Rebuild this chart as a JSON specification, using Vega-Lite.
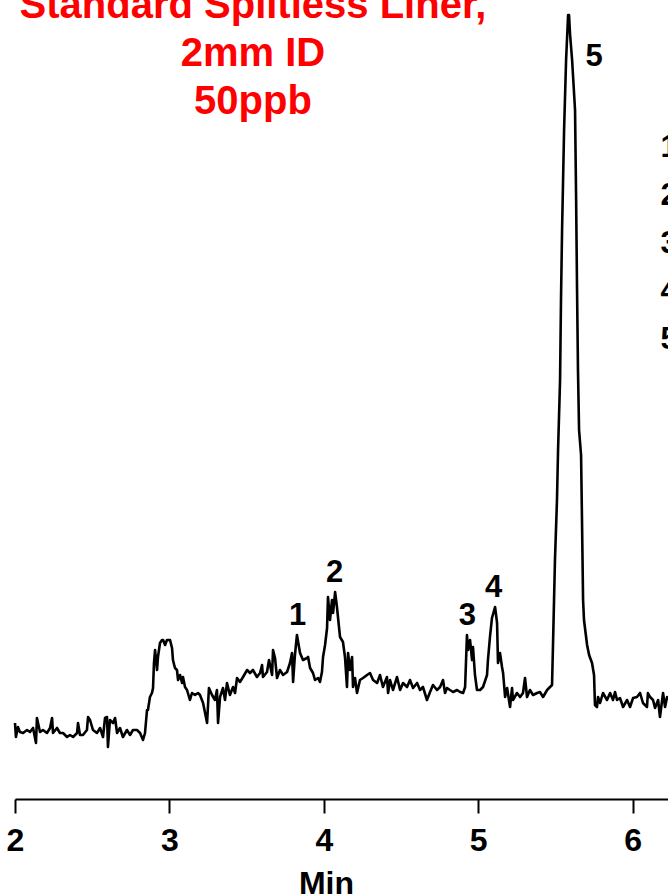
{
  "$schema": "https://vega.github.io/schema/vega-lite/v6.json",
  "width": 653,
  "height": 799,
  "autosize": {"type": "none"},
  "padding": {"left": 15, "top": 0, "right": 0, "bottom": 97},
  "background": "white",
  "config": {"view": {"stroke": null}, "font": "Liberation Sans"},
  "datasets": {
    "trace": [
      {"t": 2.000, "v": 76}, {"t": 2.006, "v": 62}, {"t": 2.019, "v": 72}, {"t": 2.032, "v": 67}, {"t": 2.052, "v": 66},
      {"t": 2.078, "v": 69}, {"t": 2.097, "v": 67}, {"t": 2.117, "v": 71}, {"t": 2.136, "v": 56}, {"t": 2.142, "v": 81},
      {"t": 2.162, "v": 67}, {"t": 2.181, "v": 69}, {"t": 2.207, "v": 66}, {"t": 2.227, "v": 71}, {"t": 2.240, "v": 81},
      {"t": 2.246, "v": 66}, {"t": 2.272, "v": 71}, {"t": 2.291, "v": 66}, {"t": 2.311, "v": 66}, {"t": 2.337, "v": 62},
      {"t": 2.356, "v": 64}, {"t": 2.376, "v": 62}, {"t": 2.402, "v": 66}, {"t": 2.408, "v": 76}, {"t": 2.421, "v": 64},
      {"t": 2.440, "v": 64}, {"t": 2.466, "v": 69}, {"t": 2.473, "v": 82}, {"t": 2.486, "v": 79}, {"t": 2.505, "v": 69},
      {"t": 2.531, "v": 66}, {"t": 2.551, "v": 71}, {"t": 2.570, "v": 62}, {"t": 2.583, "v": 81}, {"t": 2.596, "v": 82},
      {"t": 2.602, "v": 52}, {"t": 2.615, "v": 79}, {"t": 2.635, "v": 76}, {"t": 2.648, "v": 81}, {"t": 2.661, "v": 66},
      {"t": 2.680, "v": 71}, {"t": 2.699, "v": 62}, {"t": 2.725, "v": 69}, {"t": 2.745, "v": 64}, {"t": 2.764, "v": 69},
      {"t": 2.790, "v": 69}, {"t": 2.810, "v": 66}, {"t": 2.829, "v": 59}, {"t": 2.842, "v": 66}, {"t": 2.855, "v": 89},
      {"t": 2.861, "v": 89}, {"t": 2.874, "v": 102}, {"t": 2.887, "v": 106}, {"t": 2.894, "v": 111}, {"t": 2.900, "v": 136},
      {"t": 2.907, "v": 149}, {"t": 2.920, "v": 129}, {"t": 2.926, "v": 142}, {"t": 2.939, "v": 156}, {"t": 2.952, "v": 159},
      {"t": 2.959, "v": 159}, {"t": 2.972, "v": 154}, {"t": 2.984, "v": 159}, {"t": 2.991, "v": 159}, {"t": 3.004, "v": 159},
      {"t": 3.017, "v": 151}, {"t": 3.023, "v": 139}, {"t": 3.036, "v": 131}, {"t": 3.049, "v": 129}, {"t": 3.056, "v": 119},
      {"t": 3.069, "v": 124}, {"t": 3.082, "v": 116}, {"t": 3.088, "v": 122}, {"t": 3.101, "v": 112}, {"t": 3.114, "v": 109},
      {"t": 3.133, "v": 99}, {"t": 3.146, "v": 106}, {"t": 3.166, "v": 104}, {"t": 3.185, "v": 106}, {"t": 3.198, "v": 104},
      {"t": 3.218, "v": 96}, {"t": 3.244, "v": 76}, {"t": 3.256, "v": 111}, {"t": 3.276, "v": 104}, {"t": 3.295, "v": 99},
      {"t": 3.308, "v": 109}, {"t": 3.315, "v": 76}, {"t": 3.328, "v": 102}, {"t": 3.347, "v": 111}, {"t": 3.360, "v": 99},
      {"t": 3.373, "v": 116}, {"t": 3.392, "v": 104}, {"t": 3.412, "v": 112}, {"t": 3.425, "v": 106}, {"t": 3.438, "v": 121},
      {"t": 3.457, "v": 117}, {"t": 3.477, "v": 122}, {"t": 3.503, "v": 129}, {"t": 3.522, "v": 126}, {"t": 3.541, "v": 129},
      {"t": 3.567, "v": 122}, {"t": 3.587, "v": 126}, {"t": 3.600, "v": 134}, {"t": 3.606, "v": 122}, {"t": 3.632, "v": 127},
      {"t": 3.645, "v": 139}, {"t": 3.665, "v": 124}, {"t": 3.671, "v": 149}, {"t": 3.684, "v": 141}, {"t": 3.697, "v": 121},
      {"t": 3.716, "v": 129}, {"t": 3.736, "v": 124}, {"t": 3.762, "v": 127}, {"t": 3.781, "v": 136}, {"t": 3.794, "v": 146},
      {"t": 3.801, "v": 117}, {"t": 3.813, "v": 144}, {"t": 3.826, "v": 164}, {"t": 3.846, "v": 146}, {"t": 3.865, "v": 139},
      {"t": 3.891, "v": 141}, {"t": 3.898, "v": 142}, {"t": 3.911, "v": 131}, {"t": 3.930, "v": 126}, {"t": 3.943, "v": 119},
      {"t": 3.963, "v": 121}, {"t": 3.975, "v": 117}, {"t": 3.988, "v": 127}, {"t": 3.995, "v": 142}, {"t": 4.008, "v": 154},
      {"t": 4.021, "v": 171}, {"t": 4.027, "v": 202}, {"t": 4.040, "v": 179}, {"t": 4.053, "v": 199}, {"t": 4.060, "v": 186},
      {"t": 4.073, "v": 207}, {"t": 4.085, "v": 192}, {"t": 4.105, "v": 162}, {"t": 4.124, "v": 157}, {"t": 4.137, "v": 142},
      {"t": 4.150, "v": 112}, {"t": 4.157, "v": 146}, {"t": 4.170, "v": 129}, {"t": 4.183, "v": 142}, {"t": 4.189, "v": 112},
      {"t": 4.202, "v": 121}, {"t": 4.215, "v": 106}, {"t": 4.234, "v": 119}, {"t": 4.254, "v": 121}, {"t": 4.280, "v": 124},
      {"t": 4.299, "v": 126}, {"t": 4.319, "v": 119}, {"t": 4.345, "v": 116}, {"t": 4.364, "v": 124}, {"t": 4.383, "v": 112},
      {"t": 4.409, "v": 122}, {"t": 4.416, "v": 106}, {"t": 4.429, "v": 119}, {"t": 4.448, "v": 109}, {"t": 4.474, "v": 122},
      {"t": 4.494, "v": 109}, {"t": 4.513, "v": 116}, {"t": 4.539, "v": 112}, {"t": 4.558, "v": 119}, {"t": 4.578, "v": 111},
      {"t": 4.604, "v": 116}, {"t": 4.623, "v": 109}, {"t": 4.642, "v": 112}, {"t": 4.668, "v": 99}, {"t": 4.688, "v": 107},
      {"t": 4.707, "v": 114}, {"t": 4.733, "v": 109}, {"t": 4.753, "v": 112}, {"t": 4.772, "v": 119}, {"t": 4.785, "v": 106},
      {"t": 4.798, "v": 111}, {"t": 4.817, "v": 109}, {"t": 4.837, "v": 107}, {"t": 4.863, "v": 109}, {"t": 4.882, "v": 107},
      {"t": 4.902, "v": 106}, {"t": 4.915, "v": 112}, {"t": 4.927, "v": 164}, {"t": 4.934, "v": 149}, {"t": 4.947, "v": 159},
      {"t": 4.960, "v": 139}, {"t": 4.966, "v": 152}, {"t": 4.979, "v": 124}, {"t": 4.992, "v": 109}, {"t": 5.012, "v": 109},
      {"t": 5.031, "v": 112}, {"t": 5.057, "v": 124}, {"t": 5.063, "v": 139}, {"t": 5.076, "v": 162}, {"t": 5.089, "v": 181},
      {"t": 5.109, "v": 192}, {"t": 5.122, "v": 176}, {"t": 5.128, "v": 136}, {"t": 5.141, "v": 146}, {"t": 5.154, "v": 132},
      {"t": 5.161, "v": 126}, {"t": 5.174, "v": 102}, {"t": 5.187, "v": 111}, {"t": 5.206, "v": 92}, {"t": 5.219, "v": 111},
      {"t": 5.225, "v": 99}, {"t": 5.251, "v": 106}, {"t": 5.271, "v": 102}, {"t": 5.290, "v": 106}, {"t": 5.303, "v": 121},
      {"t": 5.316, "v": 102}, {"t": 5.335, "v": 109}, {"t": 5.355, "v": 104}, {"t": 5.381, "v": 106}, {"t": 5.400, "v": 107},
      {"t": 5.420, "v": 102}, {"t": 5.446, "v": 109}, {"t": 5.465, "v": 112}, {"t": 5.478, "v": 114}, {"t": 5.485, "v": 159},
      {"t": 5.491, "v": 199}, {"t": 5.497, "v": 239}, {"t": 5.510, "v": 299}, {"t": 5.517, "v": 349}, {"t": 5.530, "v": 419},
      {"t": 5.536, "v": 499}, {"t": 5.543, "v": 569}, {"t": 5.556, "v": 669}, {"t": 5.569, "v": 739}, {"t": 5.582, "v": 784},
      {"t": 5.588, "v": 784}, {"t": 5.595, "v": 764}, {"t": 5.608, "v": 739}, {"t": 5.627, "v": 689}, {"t": 5.634, "v": 599},
      {"t": 5.640, "v": 509}, {"t": 5.646, "v": 429}, {"t": 5.653, "v": 369}, {"t": 5.666, "v": 344}, {"t": 5.672, "v": 279},
      {"t": 5.679, "v": 199}, {"t": 5.685, "v": 179}, {"t": 5.705, "v": 154}, {"t": 5.718, "v": 144}, {"t": 5.737, "v": 136},
      {"t": 5.750, "v": 124}, {"t": 5.756, "v": 94}, {"t": 5.769, "v": 92}, {"t": 5.776, "v": 102}, {"t": 5.789, "v": 96},
      {"t": 5.808, "v": 106}, {"t": 5.834, "v": 99}, {"t": 5.854, "v": 106}, {"t": 5.873, "v": 99}, {"t": 5.886, "v": 107},
      {"t": 5.899, "v": 99}, {"t": 5.918, "v": 101}, {"t": 5.938, "v": 92}, {"t": 5.964, "v": 99}, {"t": 5.983, "v": 92},
      {"t": 6.003, "v": 101}, {"t": 6.028, "v": 102}, {"t": 6.048, "v": 106}, {"t": 6.067, "v": 96}, {"t": 6.093, "v": 92},
      {"t": 6.099, "v": 106}, {"t": 6.113, "v": 102}, {"t": 6.132, "v": 99}, {"t": 6.145, "v": 91}, {"t": 6.165, "v": 99},
      {"t": 6.177, "v": 82}, {"t": 6.197, "v": 106}, {"t": 6.210, "v": 92}, {"t": 6.223, "v": 102}, {"t": 6.229, "v": 99}
    ],
    "peaks": [
      {"peak": "1", "rt": 3.83, "height": 164},
      {"peak": "2", "rt": 4.07, "height": 207},
      {"peak": "3", "rt": 4.93, "height": 164},
      {"peak": "4", "rt": 5.10, "height": 192},
      {"peak": "5", "rt": 5.585, "height": 784}
    ]
  },
  "layer": [
    {
      "data": {"name": "trace"},
      "mark": {"type": "line", "color": "black", "strokeWidth": 2.6, "strokeJoin": "round"},
      "encoding": {
        "x": {
          "field": "t",
          "type": "quantitative",
          "scale": {"domain": [2, 6.229], "nice": false, "zero": false},
          "axis": {
            "values": [2, 2.5, 3, 3.5, 4, 4.5, 5, 5.5, 6],
            "format": "d",
            "labelExpr": "datum.value % 1 === 0 ? datum.label : ''",
            "tickSize": {"condition": {"test": "datum.value % 1 !== 0", "value": 7}, "value": 14},
            "tickWidth": 2,
            "tickColor": "black",
            "domainColor": "black",
            "domainWidth": 2,
            "grid": false,
            "labelFlush": false,
            "labelOverlap": false,
            "labelFontSize": 32,
            "labelFontWeight": "bold",
            "labelColor": "black",
            "labelPadding": 12,
            "title": "Min",
            "titleFontSize": 32,
            "titleFontWeight": "bold",
            "titleColor": "black",
            "titleX": 311,
            "titleY": 94,
            "titleAlign": "center",
            "titleBaseline": "alphabetic"
          }
        },
        "y": {
          "field": "v",
          "type": "quantitative",
          "scale": {"domain": [0, 799], "nice": false, "zero": false},
          "axis": null
        }
      }
    },
    {
      "data": {"name": "peaks"},
      "transform": [{"filter": "datum.peak !== '5'"}],
      "mark": {"type": "text", "fontSize": 31, "fontWeight": "bold", "color": "black", "baseline": "alphabetic", "align": "center", "dy": -10},
      "encoding": {
        "x": {"field": "rt", "type": "quantitative"},
        "y": {"field": "height", "type": "quantitative"},
        "text": {"field": "peak"}
      }
    },
    {
      "data": {"name": "peaks"},
      "transform": [{"filter": "datum.peak === '5'"}],
      "mark": {"type": "text", "fontSize": 31, "fontWeight": "bold", "color": "black", "baseline": "alphabetic", "align": "left", "dx": 17, "dy": 51},
      "encoding": {
        "x": {"field": "rt", "type": "quantitative"},
        "y": {"field": "height", "type": "quantitative"},
        "text": {"field": "peak"}
      }
    },
    {
      "data": {"values": [{}]},
      "mark": {"type": "text", "fontSize": 40, "fontWeight": "bold", "color": "#ff0000", "align": "center", "baseline": "alphabetic", "lineHeight": 48},
      "encoding": {
        "x": {"datum": 3.541},
        "y": {"datum": 781},
        "text": {"value": ["Standard Splitless Liner,", "2mm ID", "50ppb"]}
      }
    },
    {
      "data": {"values": [{}]},
      "mark": {"type": "text", "fontSize": 31, "fontWeight": "bold", "color": "black", "align": "left", "baseline": "middle", "lineHeight": 48},
      "encoding": {
        "x": {"datum": 6.18},
        "y": {"datum": 651},
        "text": {"value": ["1", "2", "3", "4", "5"]}
      }
    }
  ]
}
